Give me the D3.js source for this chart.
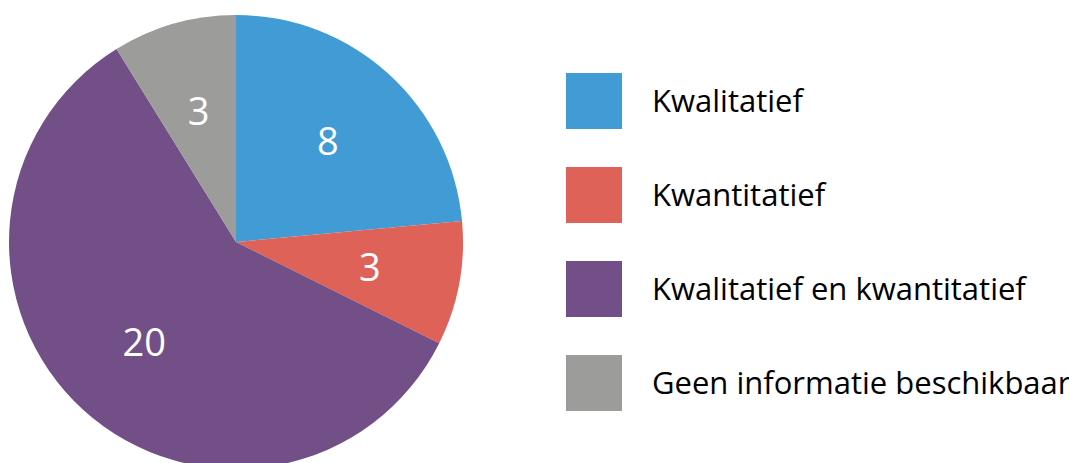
<!DOCTYPE html>
<html>
<head>
<meta charset="utf-8">
<script src="https://cdn.jsdelivr.net/npm/d3@7"></script>
<style>
  body { margin: 0; background: #fff; }
  text { font-family: "Open Sans", "Noto Sans", sans-serif; }
</style>
</head>
<body>
<svg width="1069" height="463"></svg>
<script>
// data
var categories = ["Kwalitatief", "Kwantitatief", "Kwalitatief en kwantitatief", "Geen informatie beschikbaar"];
var counts = [8, 3, 20, 3];
var colours = ["#419bd4", "#df6259", "#725087", "#9c9c9b"];

var svg = d3.select("svg");
var radius = 227;

var data = categories.map(function(c, i) { return {name: c, value: counts[i], colour: colours[i]}; });

var pie = d3.pie().sort(null).value(function(d) { return d.value; });
var arc = d3.arc().innerRadius(0).outerRadius(radius);
var labelArc = d3.arc().innerRadius(radius * 0.6).outerRadius(radius * 0.6);

var g = svg.append("g").attr("transform", "translate(236,242)");

var slices = g.selectAll(".slice")
  .data(pie(data))
  .enter().append("g")
  .attr("class", "slice");

slices.append("path")
  .attr("d", arc)
  .attr("fill", function(d) { return d.data.colour; });

slices.append("text")
  .attr("transform", function(d) { return "translate(" + labelArc.centroid(d) + ")"; })
  .attr("text-anchor", "middle")
  .attr("dy", "0.36em")
  .attr("font-size", "38px")
  .attr("fill", "#fff")
  .text(function(d) { return d.data.value; });

// legend
var legend = svg.append("g").attr("transform", "translate(566,73)");
var y = d3.scaleBand().domain(categories).range([0, 376]).paddingInner(0);

var items = legend.selectAll(".item")
  .data(data)
  .enter().append("g")
  .attr("class", "item")
  .attr("transform", function(d) { return "translate(0," + y(d.name) + ")"; });

items.append("rect")
  .attr("width", 56)
  .attr("height", 56)
  .attr("fill", function(d) { return d.colour; });

items.append("text")
  .attr("x", 86)
  .attr("y", 39)
  .attr("font-size", "31px")
  .attr("fill", "#000")
  .text(function(d) { return d.name; });
</script>
</body>
</html>
